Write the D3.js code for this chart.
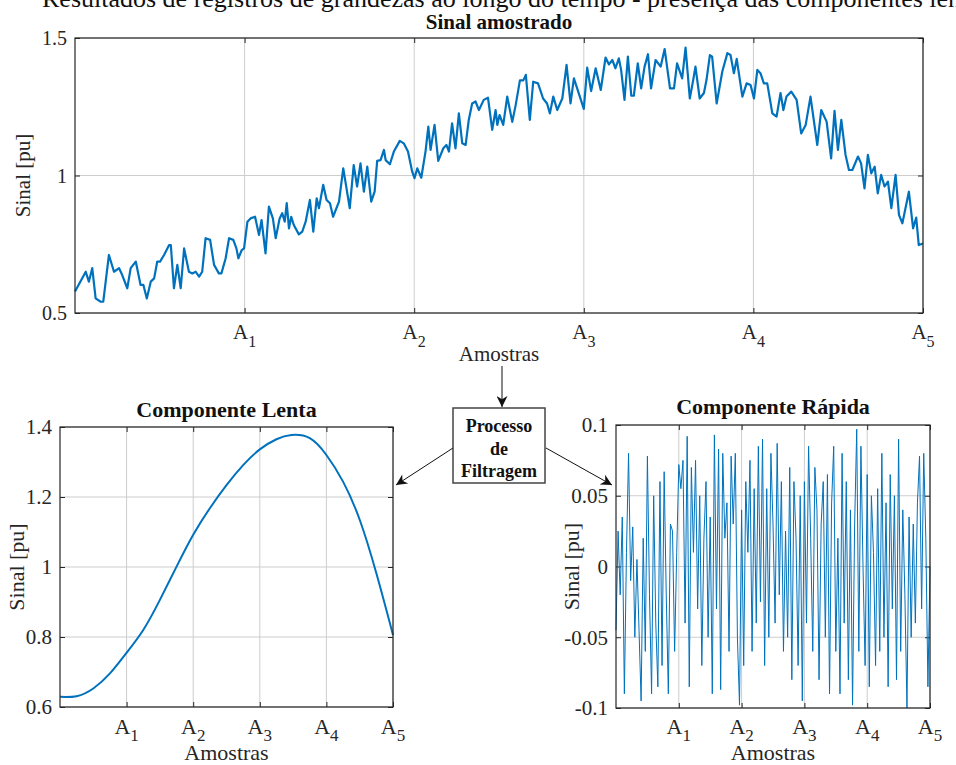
<!DOCTYPE html>
<html>
<head>
<meta charset="utf-8">
<script src="https://cdn.jsdelivr.net/npm/d3@7"></script>
<style>
  body { margin: 0; background: #fff; }
  svg { font-family: "Liberation Serif", "Times New Roman", serif; }
</style>
</head>
<body>
<svg id="fig" width="956" height="765"></svg>
<script>
// sample axis: 0..300, ticks A1..A5
const amostraTicks = [60, 120, 180, 240, 300];
const amostraLabels = ["1", "2", "3", "4", "5"];

const sinalX = [0,3.8,4.9,6.1,7.3,9.1,10,12,13.8,15.6,16.7,18.5,19.7,21.5,23.2,24.2,25.4,26.8,28,29.1,30.1,31.5,33.3,33.9,35,36.2,37.4,38.6,40.3,41.5,42.7,43.9,45,46.2,47.8,49.2,50.9,51.8,53.3,54.5,56,57.1,57.8,59,59.8,61,62.1,63.7,65.1,66,67.4,68.6,70,71,72.4,73.3,74.2,74.9,
  75.7,76.5,77.4,79.2,80.4,81.6,83.1,84.3,85.5,86.3,87.8,89,90.2,91.3,93.4,94.9,97.2,98.6,99.8,101,102.2,103.4,104.8,106,106.9,108.1,109.3,109.9,111.4,112.8,114.9,116.3,117.8,119.3,120.1,121.1,122.5,124,125,125.8,127.2,128.5,130.3,131.4,132.3,133.4,134.6,135.8,137,138.2,139.3,140.5,141.7,142.9,144.6,146.1,147.6,148.8,
  149.4,150.2,151.5,152.9,154.7,155.9,157.4,158.6,159.5,160.9,162.1,163.8,165.6,167,168,169.2,170.6,172.4,173.9,175.3,176.5,178.6,180,181.2,182.6,184.2,186,187.7,188.9,190.1,191.2,192.4,193.2,194.4,195.6,196.8,197.7,199.1,200.3,201.5,202.7,203.8,205.4,207.2,208.6,210.5,211.9,213,214.8,216,217.5,218.7,219.5,221,222.5,
  223.4,224.6,225.4,227,229,230.8,231.9,233.1,234.1,236.1,237.6,239,240.2,241.4,242.5,243.7,244.9,246.7,248.2,249.6,250.6,251.7,253.4,255.3,256.9,258.5,260.2,262.6,264,265.9,267.5,268.7,269.9,271.1,272.6,273.8,275,277,278.1,279.3,280.5,281.7,282.9,284,285.2,286.4,287.6,288.8,290.3,291.5,292.7,293.8,295,296.5,297.6,298.5,300];
const sinalY = [0.578,0.65,0.614,0.663,0.553,0.541,0.541,0.711,0.65,0.663,0.638,0.59,0.663,0.687,0.602,0.602,0.553,0.614,0.626,0.687,0.687,0.711,0.747,0.747,0.59,0.675,0.59,0.735,0.65,0.644,0.65,0.632,0.65,0.772,0.766,0.675,0.644,0.644,0.699,0.772,0.766,0.735,0.699,0.729,0.735,0.832,0.844,0.85,0.784,0.838,0.717,0.887,0.844,0.772,0.844,0.863,0.832,0.9,
  0.808,0.85,0.82,0.786,0.796,0.832,0.911,0.796,0.917,0.881,0.966,0.911,0.899,0.85,0.905,1.026,0.881,1.038,0.96,1.044,0.941,1.032,0.905,0.941,1.053,1.056,1.093,1.056,1.041,1.087,1.126,1.117,1.087,1.014,0.99,1.026,0.992,1.087,1.178,1.093,1.184,1.053,1.099,1.111,1.087,1.19,1.099,1.226,1.117,1.111,1.202,1.262,1.269,1.238,1.275,1.283,1.166,1.238,
  1.184,1.22,1.184,1.287,1.195,1.256,1.346,1.346,1.366,1.202,1.341,1.335,1.28,1.262,1.226,1.287,1.238,1.28,1.402,1.262,1.353,1.287,1.242,1.392,1.307,1.39,1.311,1.429,1.404,1.42,1.39,1.426,1.384,1.275,1.432,1.29,1.29,1.408,1.317,1.396,1.441,1.317,1.42,1.396,1.46,1.317,1.317,1.408,1.353,1.465,1.28,1.347,1.396,1.28,1.3,
  1.347,1.438,1.432,1.262,1.378,1.445,1.438,1.372,1.424,1.287,1.335,1.329,1.28,1.384,1.372,1.335,1.335,1.226,1.214,1.3,1.238,1.287,1.305,1.275,1.153,1.184,1.287,1.111,1.238,1.196,1.062,1.235,1.093,1.202,1.075,1.02,1.02,1.069,1.044,0.953,1.075,1.008,1.032,0.935,1.002,0.96,0.978,0.881,1.002,0.857,0.826,0.881,0.941,0.808,0.847,0.747,0.753];

// Componente Lenta
const lentaX = [0,15,30,45,59.5,75,90,105,120,135,150,165,180,195,208.5,225,240,255,270,285,300];
const lentaY = [0.629,0.631,0.653,0.696,0.753,0.82,0.906,1.001,1.092,1.168,1.234,1.291,1.336,1.365,1.377,1.368,1.32,1.244,1.135,0.982,0.806];

// Componente Rapida (one value every 2 samples)
const rapidaY = [-0.045,0.025,-0.02,0.035,-0.09,0.01,0.08,-0.01,0.028,-0.05,
  0.005,-0.045,-0.095,0.02,-0.06,0.078,-0.02,-0.09,0.05,-0.04,
  -0.085,0.06,-0.07,0.067,-0.02,-0.09,0.03,0.025,-0.06,0.01,
  0.072,0.055,0.075,-0.04,0.092,-0.085,0.07,0.01,0.075,-0.03,
  0.05,-0.07,0.02,0.06,-0.05,0.035,-0.09,0.093,-0.03,0.083,
  -0.087,0.08,0.02,0.045,-0.06,0.078,0.03,0.08,-0.05,-0.098,
  0.04,-0.07,0.06,0.01,0.075,-0.06,0.055,-0.04,0.085,-0.025,
  0.09,-0.07,0.055,-0.05,0.08,0.03,-0.04,0.087,-0.02,0.06,
  -0.06,0.025,-0.05,0.07,-0.08,0.06,0.02,-0.07,0.05,-0.095,
  0.06,-0.04,0.085,0.02,-0.06,0.07,0.04,-0.08,0.03,0.06,
  -0.05,0.065,-0.09,0.045,0.085,-0.06,0.02,-0.09,0.08,-0.04,
  0.06,-0.08,0.04,-0.098,0.03,0.097,-0.06,0.085,0.0,-0.07,
  0.065,-0.085,0.05,0.01,-0.07,0.055,-0.06,0.08,-0.05,0.045,
  -0.085,0.065,-0.03,0.05,-0.08,0.09,-0.06,0.04,-0.02,-0.1,
  0.035,-0.05,0.03,-0.04,0.045,0.078,-0.03,0.08,0.02,-0.085,0.0];

const blue = "#0072BD";
const svg = d3.select("#fig");

svg.append("defs").append("marker")
    .attr("id", "head")
    .attr("viewBox", "0 0 10 10")
    .attr("refX", 10).attr("refY", 5)
    .attr("markerWidth", 15).attr("markerHeight", 11)
    .attr("markerUnits", "userSpaceOnUse")
    .attr("orient", "auto")
  .append("path")
    .attr("d", "M0,0 L10,5 L0,10 L3,5 Z")
    .attr("fill", "#111");

function panel(o) {
  const x = d3.scaleLinear().domain([0, 300]).range([o.left, o.right]);
  const y = d3.scaleLinear().domain(o.yDomain).range([o.bottom, o.top]);
  const g = svg.append("g");

  // grid
  g.selectAll(".gx").data(amostraTicks).enter().append("line")
      .attr("x1", d => x(d)).attr("x2", d => x(d))
      .attr("y1", o.top).attr("y2", o.bottom)
      .attr("stroke", "#cdcdcd").attr("stroke-width", 1);
  g.selectAll(".gy").data(o.yTicks).enter().append("line")
      .attr("x1", o.left).attr("x2", o.right)
      .attr("y1", d => y(d)).attr("y2", d => y(d))
      .attr("stroke", "#cdcdcd").attr("stroke-width", 1);

  // inward ticks via axes
  const mk = (axis, tr) => g.append("g").attr("transform", tr).call(axis)
      .call(s => s.selectAll("text").remove())
      .call(s => s.select(".domain").remove())
      .call(s => s.selectAll("line").attr("stroke", "#262626"));
  mk(d3.axisBottom(x).tickValues(amostraTicks).tickSize(-5), `translate(0,${o.bottom})`);
  mk(d3.axisTop(x).tickValues(amostraTicks).tickSize(-5), `translate(0,${o.top})`);
  mk(d3.axisLeft(y).tickValues(o.yTicks).tickSize(-5), `translate(${o.left},0)`);
  mk(d3.axisRight(y).tickValues(o.yTicks).tickSize(-5), `translate(${o.right},0)`);

  // y tick labels
  g.selectAll(".yl").data(o.yTicks).enter().append("text")
      .attr("x", o.left - 8).attr("y", d => y(d)).attr("dy", "0.35em")
      .attr("text-anchor", "end").attr("font-size", o.fs).attr("fill", "#262626")
      .text(d => String(d));

  // x tick labels A_k
  const xl = g.selectAll(".xl").data(amostraTicks).enter().append("text")
      .attr("x", d => x(d)).attr("y", o.xlabY)
      .attr("text-anchor", "middle").attr("font-size", o.fs + 1).attr("fill", "#262626");
  xl.append("tspan").text("A");
  xl.append("tspan").attr("dy", o.subDy).attr("font-size", o.fs - 4)
      .text((d, i) => amostraLabels[i]);

  g.append("text").attr("x", (o.left + o.right) / 2).attr("y", o.axisY)
      .attr("text-anchor", "middle").attr("font-size", o.fs + 1).attr("fill", "#262626")
      .text("Amostras");
  g.append("text")
      .attr("transform", `translate(${o.ylabX},${(o.top + o.bottom) / 2}) rotate(-90)`)
      .attr("text-anchor", "middle").attr("font-size", o.fs + 1).attr("fill", "#262626")
      .text("Sinal [pu]");
  g.append("text").attr("x", (o.left + o.right) / 2).attr("y", o.titleY)
      .attr("text-anchor", "middle").attr("font-size", o.fs + 1)
      .attr("font-weight", "bold").attr("fill", "#111")
      .text(o.title);

  return { g, x, y, o };
}

function box(p) {
  p.g.append("rect")
      .attr("x", p.o.left).attr("y", p.o.top)
      .attr("width", p.o.right - p.o.left).attr("height", p.o.bottom - p.o.top)
      .attr("fill", "none").attr("stroke", "#262626").attr("stroke-width", 1.2);
}

// top: Sinal amostrado
const amostrado = panel({ left: 75, right: 923, top: 38, bottom: 313,
  yDomain: [0.5, 1.5], yTicks: [0.5, 1, 1.5], fs: 20,
  xlabY: 339, subDy: 8, axisY: 361, ylabX: 30, titleY: 29, title: "Sinal amostrado" });
amostrado.g.append("path")
    .attr("d", d3.line().x((d, i) => amostrado.x(sinalX[i])).y(d => amostrado.y(d))(sinalY))
    .attr("fill", "none").attr("stroke", blue).attr("stroke-width", 2.2)
    .attr("stroke-linejoin", "round");
box(amostrado);

// bottom left: Componente Lenta
const lenta = panel({ left: 60, right: 393, top: 427, bottom: 707,
  yDomain: [0.6, 1.4], yTicks: [0.6, 0.8, 1, 1.2, 1.4], fs: 21,
  xlabY: 734, subDy: 7, axisY: 760, ylabX: 24, titleY: 417, title: "Componente Lenta" });
lenta.g.append("path")
    .attr("d", d3.line().curve(d3.curveNatural)
      .x((d, i) => lenta.x(lentaX[i])).y(d => lenta.y(d))(lentaY))
    .attr("fill", "none").attr("stroke", blue).attr("stroke-width", 2);
box(lenta);

// bottom right: Componente Rapida
const rapida = panel({ left: 616, right: 930, top: 425, bottom: 708,
  yDomain: [-0.1, 0.1], yTicks: [-0.1, -0.05, 0, 0.05, 0.1], fs: 21,
  xlabY: 734, subDy: 7, axisY: 760, ylabX: 579, titleY: 414, title: "Componente Rápida" });
rapida.g.append("path")
    .attr("d", d3.line().x((d, i) => rapida.x(i * 2)).y(d => rapida.y(d))(rapidaY))
    .attr("fill", "none").attr("stroke", blue).attr("stroke-width", 1);
box(rapida);

// cut-off heading
svg.append("text").attr("x", 42).attr("y", 7)
    .attr("font-size", 26).attr("fill", "#111")
    .text("Resultados de registros de grandezas ao longo do tempo - presença das componentes lenta e rápida");

// filter box and arrows
const fb = svg.append("g");
fb.append("rect").attr("x", 453).attr("y", 408).attr("width", 92).attr("height", 75)
    .attr("fill", "#fff").attr("stroke", "#444").attr("stroke-width", 1.5);
["Processo", "de", "Filtragem"].forEach((t, i) => {
  fb.append("text").attr("x", 499).attr("y", 432 + i * 22.5)
      .attr("text-anchor", "middle").attr("font-size", 18)
      .attr("font-weight", "bold").attr("fill", "#111").text(t);
});
const arrows = [[502, 366, 502, 407], [453, 448, 396, 485], [546, 448, 612, 485]];
fb.selectAll(".arr").data(arrows).enter().append("line")
    .attr("x1", d => d[0]).attr("y1", d => d[1])
    .attr("x2", d => d[2]).attr("y2", d => d[3])
    .attr("stroke", "#111").attr("stroke-width", 1)
    .attr("marker-end", "url(#head)");
</script>
</body>
</html>
